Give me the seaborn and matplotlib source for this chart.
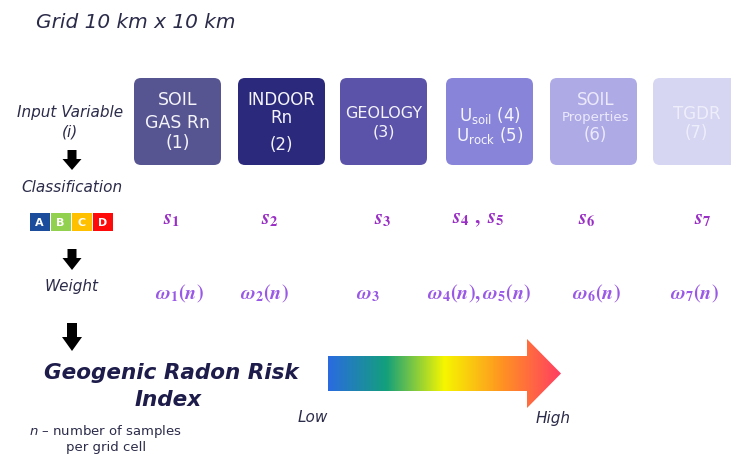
import numpy as np
import matplotlib
matplotlib.use("Agg")
import matplotlib.pyplot as plt
import seaborn as sns
from matplotlib.patches import FancyBboxPatch, Polygon, Rectangle

# ---------------- data ----------------
title = "Grid 10 km x 10 km"
box_lines = [
    ["SOIL", "GAS Rn", "(1)"],
    ["INDOOR", "Rn", "(2)"],
    ["GEOLOGY", "(3)"],
    [r"U$_{\mathrm{soil}}$ (4)", r"U$_{\mathrm{rock}}$ (5)"],
    ["SOIL", "Properties", "(6)"],
    ["TGDR", "(7)"],
]
box_colors = ["#575591", "#2b297c", "#5b53a9", "#8884d9", "#aeaae6", "#d6d5f2"]
box_text_colors = ["#f4f4fa", "#f4f4fa", "#f4f4fa", "#f6f6fc", "#ebe9fb", "#eeeefb"]
class_labels = [r"$\mathbfit{s}_{\mathbf{1}}$", r"$\mathbfit{s}_{\mathbf{2}}$",
                r"$\mathbfit{s}_{\mathbf{3}}$",
                r"$\mathbfit{s}_{\mathbf{4}}\mathbf{\ ,\ }\mathbfit{s}_{\mathbf{5}}$",
                r"$\mathbfit{s}_{\mathbf{6}}$", r"$\mathbfit{s}_{\mathbf{7}}$"]
weight_labels = [r"$\mathbfit{\omega}_{\mathbf{1}}\mathbf{(}\mathbfit{n}\mathbf{)}$",
                 r"$\mathbfit{\omega}_{\mathbf{2}}\mathbf{(}\mathbfit{n}\mathbf{)}$",
                 r"$\mathbfit{\omega}_{\mathbf{3}}$",
                 r"$\mathbfit{\omega}_{\mathbf{4}}\mathbf{(}\mathbfit{n}\mathbf{),}"
                 r"\mathbfit{\omega}_{\mathbf{5}}\mathbf{(}\mathbfit{n}\mathbf{)}$",
                 r"$\mathbfit{\omega}_{\mathbf{6}}\mathbf{(}\mathbfit{n}\mathbf{)}$",
                 r"$\mathbfit{\omega}_{\mathbf{7}}\mathbf{(}\mathbfit{n}\mathbf{)}$"]
badge_letters = ["A", "B", "C", "D"]
badge_colors = ["#1b4d9c", "#92d050", "#ffc000", "#ff0a0a"]
gradient_stops = ["#2a6be0", "#13a07c", "#f6f600", "#ff9222", "#ff3e62"]

# ---------------- layout ----------------
sns.set_theme(style="white")
plt.rcParams["font.family"] = ["DejaVu Sans"]

fig = plt.figure(figsize=(7.31, 4.55), dpi=100)
ax = fig.add_axes([0, 0, 1, 1])
ax.set_xlim(0, 731)
ax.set_ylim(455, 0)
ax.axis("off")

navy = "#2b2b4a"
ax.text(36, 22, title, fontsize=14.5, style="italic", color=navy, va="center", ha="left")

# boxes
box_left = [134, 238, 340, 446, 550, 653]
box_w, box_top, box_h = 87, 78, 87
line_y = [[100, 123, 143], [100, 118, 145], [113, 132], [116, 136], [100, 117, 135], [114, 133]]
line_size = [[12.5, 12.5, 12.5], [12, 12, 12], [11.5, 11.5], [12, 12], [12, 9.5, 12], [12, 12]]
for i, (x0, col) in enumerate(zip(box_left, box_colors)):
    p = FancyBboxPatch((x0, box_top), box_w, box_h,
                       boxstyle="round,pad=0,rounding_size=7",
                       facecolor=col, edgecolor="none")
    ax.add_patch(p)
    cx = x0 + box_w / 2 + (2 if i == 4 else 0)
    for ln, yy, fs in zip(box_lines[i], line_y[i], line_size[i]):
        ax.text(cx, yy, ln, fontsize=fs, color=box_text_colors[i], ha="center",
                va="center", math_fontfamily="dejavusans")

# left labels
ax.text(70, 113, "Input Variable", fontsize=11, style="italic", color=navy, ha="center", va="center")
ax.text(70, 132, "(i)", fontsize=11, style="italic", color=navy, ha="center", va="center")
ax.text(72, 188, "Classification", fontsize=11, style="italic", color=navy, ha="center", va="center")
ax.text(72, 287, "Weight", fontsize=11, style="italic", color=navy, ha="center", va="center")


def down_arrow(cx, top, head_start, tip, stem_w, head_w):
    pts = [(cx - stem_w / 2, top), (cx + stem_w / 2, top), (cx + stem_w / 2, head_start),
           (cx + head_w / 2, head_start), (cx, tip), (cx - head_w / 2, head_start),
           (cx - stem_w / 2, head_start)]
    ax.add_patch(Polygon(pts, closed=True, facecolor="black", edgecolor="none"))


down_arrow(72, 150, 159, 170, 9, 19)
down_arrow(72, 249, 258, 270, 9, 19)
down_arrow(72, 323, 337, 351, 10, 20)

# badges
bx0, bw, by, bh = 29, 21, 213, 18
for k, (letter, col) in enumerate(zip(badge_letters, badge_colors)):
    ax.add_patch(Rectangle((bx0 + k * bw + 0.5, by), bw - 1, bh, facecolor=col, edgecolor="none"))
    ax.text(bx0 + k * bw + bw / 2, by + bh / 2 + 0.5, letter, fontsize=8, fontweight="bold",
            color="white", ha="center", va="center")

# classification and weight labels
s_x = [172, 270, 383, 478, 587, 703]
w_x = [179, 264, 368, 479, 596, 694]
for sx, lab in zip(s_x, class_labels):
    ax.text(sx, 219, lab, fontsize=15, color="#9a2fc6", ha="center", va="center",
            math_fontfamily="stix")
for wx, lab in zip(w_x, weight_labels):
    ax.text(wx, 294, lab, fontsize=14.5, color="#9958e6", ha="center", va="center",
            math_fontfamily="stix")

# index text
ax.text(171, 373, "Geogenic Radon Risk", fontsize=15.5, fontweight="bold", style="italic",
        color="#1d1c4a", ha="center", va="center")
ax.text(168, 400, "Index", fontsize=15.5, fontweight="bold", style="italic",
        color="#1d1c4a", ha="center", va="center")
ax.text(105, 432, r"$n$ – number of samples", fontsize=9.5, color=navy, ha="center", va="center",
        math_fontfamily="dejavusans")
ax.text(106, 447, "per grid cell", fontsize=9.5, color=navy, ha="center", va="center")

# gradient arrow
cmap = sns.blend_palette(gradient_stops, as_cmap=True)
ax_l, ax_r, body_t, body_b = 328, 527, 356, 391
head_t, head_b, tip_x = 339, 408, 561
verts = [(ax_l, body_t), (ax_r, body_t), (ax_r, head_t), (tip_x, (head_t + head_b) / 2),
         (ax_r, head_b), (ax_r, body_b), (ax_l, body_b), (ax_l, body_t)]
arrow_poly = Polygon(verts, closed=True, facecolor="none", edgecolor="none")
ax.add_patch(arrow_poly)
grad = np.linspace(0, 1, 512).reshape(1, -1)
im = ax.imshow(grad, cmap=cmap, extent=[ax_l, tip_x, head_b, head_t], aspect="auto",
               interpolation="bilinear")
im.set_clip_path(arrow_poly)
ax.set_xlim(0, 731)
ax.set_ylim(455, 0)

ax.text(313, 418, "Low", fontsize=11, style="italic", color=navy, ha="center", va="center")
ax.text(553, 418, "High", fontsize=11, style="italic", color=navy, ha="center", va="center")

fig.savefig("out.png", dpi=100)
